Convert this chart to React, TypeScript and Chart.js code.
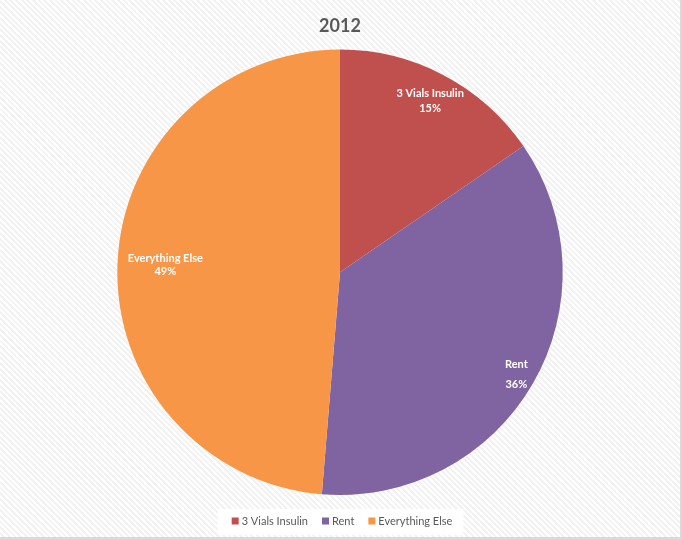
import React, { useEffect, useRef } from "react";
import { Chart, registerables } from "chart.js";

Chart.register(...registerables);

const TITLE = "2012";
const categories = ["3 Vials Insulin", "Rent", "Everything Else"];
const values = [15.4, 35.9, 48.7];
const colors = ["#C0504D", "#8064A2", "#F79646"];
const labelRadiusFractions = [0.87, 0.915, 0.785];
const labelLineGaps = [15, 20, 13];

const FONT = "Lato, 'Open Sans', sans-serif";

const sliceLabelPlugin = {
  id: "sliceLabels",
  afterDatasetsDraw(chart: any) {
    const meta = chart.getDatasetMeta(0);
    const data = chart.data.datasets[0].data as number[];
    const total = data.reduce((a, b) => a + b, 0);
    const ctx = chart.ctx;
    ctx.save();
    ctx.fillStyle = "#FFFFFF";
    ctx.font = `bold 11px ${FONT}`;
    ctx.textAlign = "center";
    ctx.textBaseline = "middle";
    meta.data.forEach((arc: any, i: number) => {
      const p = arc.getProps(["x", "y", "startAngle", "endAngle", "outerRadius"], true);
      const mid = (p.startAngle + p.endAngle) / 2;
      const r = p.outerRadius * labelRadiusFractions[i];
      const cx = p.x + Math.cos(mid) * r;
      const cy = p.y + Math.sin(mid) * r;
      const pct = Math.round((data[i] / total) * 100) + "%";
      const g = labelLineGaps[i] / 2;
      ctx.fillText(String(chart.data.labels[i]), cx, cy - g);
      ctx.fillText(pct, cx, cy + g);
    });
    ctx.restore();
  },
};

// Custom bottom legend (small square markers, tight spacing, white backing box)
const customLegendPlugin = {
  id: "customLegend",
  afterDraw(chart: any) {
    const ctx = chart.ctx;
    const labels = chart.data.labels as string[];
    const bg = chart.data.datasets[0].backgroundColor as string[];
    const box = 7;
    const boxGap = 3;
    const itemGap = 14;
    ctx.save();
    ctx.font = `11px ${FONT}`;
    const widths = labels.map((l) => ctx.measureText(l).width);
    const total =
      widths.reduce((a, w) => a + box + boxGap + w, 0) + itemGap * (labels.length - 1);
    const centerX = chart.width / 2 + 2;
    const cy = 521;
    let x = centerX - total / 2;
    ctx.fillStyle = "#FFFFFF";
    ctx.fillRect(x - 14, cy - 12, total + 25, 26);
    ctx.textBaseline = "middle";
    ctx.textAlign = "left";
    labels.forEach((l, i) => {
      ctx.fillStyle = bg[i];
      ctx.fillRect(x, cy - box / 2, box, box);
      ctx.fillStyle = "#595959";
      ctx.fillText(l, x + box + boxGap, cy + 0.5);
      x += box + boxGap + widths[i] + itemGap;
    });
    ctx.restore();
  },
};

export default function App() {
  const ref = useRef<HTMLCanvasElement>(null);
  useEffect(() => {
    document.body.style.margin = "0";
    if (!ref.current) return;
    const chart = new Chart(ref.current, {
      type: "pie",
      data: {
        labels: categories,
        datasets: [
          {
            data: values,
            backgroundColor: colors,
            borderWidth: 0,
          },
        ],
      },
      options: {
        responsive: false,
        animation: false,
        layout: { padding: { top: 0, bottom: 42, left: 0, right: 0 } },
        plugins: {
          tooltip: { enabled: false },
          legend: { display: false },
          title: {
            display: true,
            text: TITLE,
            color: "#595959",
            font: { family: FONT, size: 18, weight: "bold" },
            padding: { top: 15, bottom: 13 },
          },
        },
      },
      plugins: [sliceLabelPlugin, customLegendPlugin],
    });
    return () => chart.destroy();
  }, []);

  return (
    <div
      style={{
        width: 682,
        height: 540,
        position: "relative",
        overflow: "hidden",
        boxSizing: "border-box",
        borderRight: "2px solid #D9D9D9",
        borderBottom: "3px solid #D9D9D9",
        background:
          "repeating-linear-gradient(45deg, #FFFFFF 0px, #FFFFFF 2px, #F2F2F2 2px, #F2F2F2 4px)",
      }}
    >
      <canvas ref={ref} width={680} height={537} style={{ position: "absolute", left: 0, top: 0 }} />
    </div>
  );
}
